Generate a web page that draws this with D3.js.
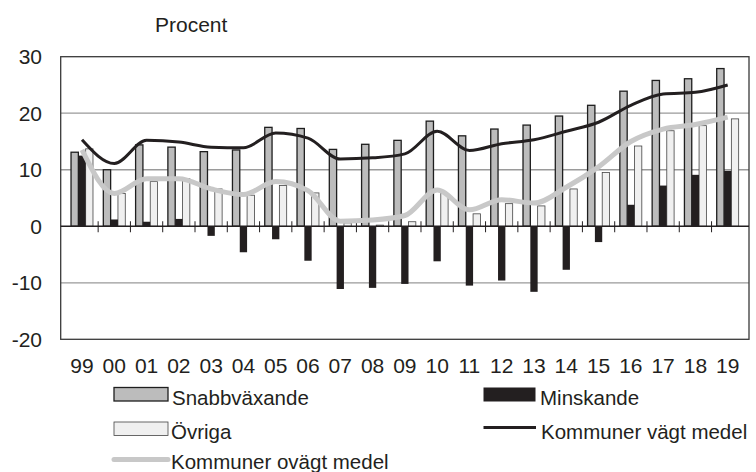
<!DOCTYPE html>
<html lang="sv">
<head>
<meta charset="UTF-8">
<script src="https://cdn.jsdelivr.net/npm/d3@7/dist/d3.min.js"></script>
<style>
  html, body { margin: 0; padding: 0; background: #fff; overflow: hidden; }
  #mainsvg { display: block; }
  svg text { font-family: "Liberation Sans", Arial, sans-serif; fill: #231f20; }
</style>
</head>
<body>
<svg id="mainsvg" width="756" height="472"></svg>
<script>
const years = ['99','00','01','02','03','04','05','06','07','08','09','10','11','12','13','14','15','16','17','18','19']
const snabb = [13.1,10.0,14.4,14.0,13.2,13.5,17.5,17.3,13.6,14.5,15.2,18.6,16.0,17.2,17.9,19.5,21.4,23.9,25.8,26.1,27.9]
const minsk = [12.5,1.2,0.8,1.3,-1.7,-4.6,-2.3,-6.1,-11.1,-10.9,-10.2,-6.2,-10.5,-9.6,-11.6,-7.7,-2.8,3.8,7.2,9.1,9.8]
const ovriga = [13.7,5.8,7.9,8.4,6.6,5.5,7.2,5.9,0.6,0.2,0.8,5.8,2.2,4.0,3.6,6.6,9.5,14.2,16.9,17.8,19.0]
const vagt = [15.3,11.1,15.2,14.9,14.0,13.9,16.5,15.6,11.9,12.1,12.8,16.8,13.4,14.6,15.3,16.8,18.4,21.4,23.4,23.7,25.0]
const ovagt = [13.5,5.8,8.4,8.4,6.6,5.6,7.9,6.3,0.9,1.1,1.9,6.4,2.9,4.7,4.1,6.9,10.5,15.0,17.2,18.0,19.3]
const yTicks = [30, 20, 10, 0, -10, -20]

const svg = d3.select('#mainsvg')
const margin = { top: 56.7, right: 7, bottom: 132.7, left: 60.7 }
const width = +svg.attr('width'), height = +svg.attr('height')
const innerWidth = width - margin.left - margin.right
const innerHeight = height - margin.top - margin.bottom

const x = d3.scaleBand().domain(years).range([margin.left, margin.left + innerWidth]).padding(0.32)
const sub = d3.scaleBand().domain(['snabb', 'minsk', 'ovriga']).range([0, x.bandwidth()])
const y = d3.scaleLinear().domain([-20, 30]).range([margin.top + innerHeight, margin.top])

// grid lines
svg.selectAll('.grid').data([20, 10, -10]).join('line')
  .attr('x1', margin.left).attr('x2', margin.left + innerWidth)
  .attr('y1', d => y(d)).attr('y2', d => y(d))
  .attr('stroke', '#9a9a9a').attr('stroke-width', 1.3)

// frame
svg.append('rect').attr('x', margin.left).attr('y', margin.top)
  .attr('width', innerWidth).attr('height', innerHeight)
  .attr('fill', 'none').attr('stroke', '#3a3a3a').attr('stroke-width', 1.3)

// bars
const groups = svg.selectAll('.grp').data(years).join('g')
  .attr('transform', d => `translate(${x(d)},0)`)
const barRect = (sel, key, vals) => sel.append('rect')
  .attr('x', sub(key))
  .attr('width', sub.bandwidth())
  .attr('y', (d, i) => y(Math.max(0, vals[i])))
  .attr('height', (d, i) => Math.abs(y(vals[i]) - y(0)))

barRect(groups, 'ovriga', ovriga).attr('fill', '#f0f0f0').attr('stroke', '#444').attr('stroke-width', 0.8)
barRect(groups, 'snabb', snabb).attr('fill', '#bcbcbc').attr('stroke', '#1e1e1e').attr('stroke-width', 1.3)
barRect(groups, 'minsk', minsk).attr('fill', '#231f20')

// zero line and ticks between categories
svg.append('line').attr('x1', margin.left).attr('x2', margin.left + innerWidth)
  .attr('y1', y(0)).attr('y2', y(0))
  .attr('stroke', '#231f20').attr('stroke-width', 1.5)
const step = x.step()
svg.selectAll('.xt').data(years.slice(1)).join('line')
  .attr('x1', d => x(d) - step * x.padding() / 2)
  .attr('x2', d => x(d) - step * x.padding() / 2)
  .attr('y1', y(0) - 5).attr('y2', y(0) + 6)
  .attr('stroke', '#231f20').attr('stroke-width', 1)

// lines
const cx = d => x(d) + x.bandwidth() / 2
const lineGen = vals => d3.line().x(cx).y((d, i) => y(vals[i])).curve(d3.curveMonotoneX)(years)
svg.append('path').attr('d', lineGen(ovagt)).attr('fill', 'none')
  .attr('stroke', '#c8c8c8').attr('stroke-width', 5).attr('stroke-linejoin', 'round')
svg.append('path').attr('d', lineGen(vagt)).attr('fill', 'none')
  .attr('stroke', '#231f20').attr('stroke-width', 3).attr('stroke-linejoin', 'round')

// texts
const labels = svg.append('g')
yTicks.forEach(d => {
  labels.append('text').attr('x', 42).attr('y', y(d) + 7.5)
    .attr('text-anchor', 'end').attr('font-size', 21).text(d)
})
labels.append('text').attr('x', 155).attr('y', 31.7).attr('font-size', 21).text('Procent')
years.forEach(d => {
  labels.append('text').attr('x', cx(d)).attr('y', 372.7)
    .attr('text-anchor', 'middle').attr('font-size', 21).text(d)
})

// legend
const leg = svg.append('g')
leg.append('rect').attr('x', 114).attr('y', 387.5).attr('width', 54).attr('height', 13.5)
  .attr('fill', '#bcbcbc').attr('stroke', '#1e1e1e').attr('stroke-width', 1.3)
leg.append('text').attr('x', 172).attr('y', 404.5).attr('font-size', 20.5).text('Snabbväxande')
leg.append('rect').attr('x', 114).attr('y', 422).attr('width', 54).attr('height', 13.5)
  .attr('fill', '#f0f0f0').attr('stroke', '#444').attr('stroke-width', 0.8)
leg.append('text').attr('x', 171).attr('y', 438.5).attr('font-size', 20.5).text('Övriga')
leg.append('line').attr('x1', 114).attr('x2', 168).attr('y1', 459.5).attr('y2', 459.5)
  .attr('stroke', '#c8c8c8').attr('stroke-width', 5).attr('stroke-linecap', 'round')
leg.append('text').attr('x', 171).attr('y', 469).attr('font-size', 20.5).text('Kommuner ovägt medel')
leg.append('rect').attr('x', 483.5).attr('y', 387.5).attr('width', 52).attr('height', 14)
  .attr('fill', '#231f20')
leg.append('text').attr('x', 540).attr('y', 404.5).attr('font-size', 20.5).text('Minskande')
leg.append('line').attr('x1', 483.5).attr('x2', 536).attr('y1', 427.5).attr('y2', 427.5)
  .attr('stroke', '#231f20').attr('stroke-width', 3)
leg.append('text').attr('x', 541).attr('y', 438.5).attr('font-size', 20.5).text('Kommuner vägt medel')
</script>
</body>
</html>
